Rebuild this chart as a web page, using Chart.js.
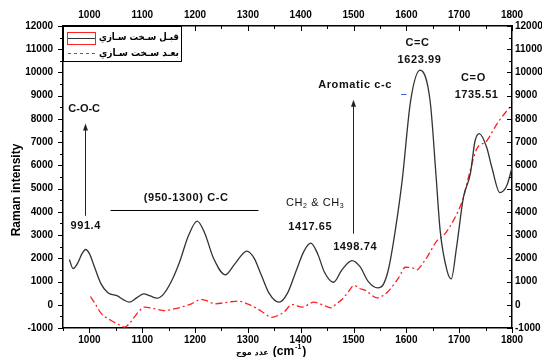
<!DOCTYPE html>
<html>
<head>
<meta charset="utf-8">
<script src="https://cdn.jsdelivr.net/npm/chart.js@4/dist/chart.umd.min.js"></script>
<style>
  html, body { margin: 0; padding: 0; background: #fff; }
  #wrap { width: 542px; height: 357px; position: relative; }
</style>
</head>
<body>
<div id="wrap"><canvas id="raman"></canvas></div>
<script>
// Raman spectrum
const seriesNames = ["قبـل سـخت سـازي", "بعـد سـخت سـازي"];

const beforeX = [962, 969, 978, 986, 993, 1000, 1010, 1022, 1035, 1054, 1064, 1076, 1090, 1103, 1115, 1128,
  1140, 1155, 1170, 1188, 1204, 1218, 1235, 1257, 1275, 1298, 1312, 1325, 1340, 1359, 1375, 1392, 1406,
  1419, 1432, 1445, 1462, 1478, 1497, 1512, 1528, 1546, 1557, 1567, 1579, 1592, 1608, 1626, 1645, 1656,
  1664, 1677, 1685, 1695, 1708, 1721, 1730, 1738, 1752, 1762, 1777, 1790, 1800];
const beforeY = [1950, 1560, 1800, 2200, 2380, 2200, 1600, 900, 520, 370, 220, 110, 310, 470, 380, 285,
  450, 1000, 1800, 3000, 3600, 3100, 2000, 1290, 1750, 2310, 2000, 1300, 500, 110, 500, 1500, 2300,
  2650, 2200, 1400, 970, 1500, 1900, 1650, 1000, 730, 900, 1615, 3190, 5330, 8770, 10100, 8770, 5620,
  3190, 1470, 1115, 2470, 4620, 5620, 7050, 7370, 6780, 5900, 4830, 5120, 5900];

const afterX = [1002, 1012, 1023, 1041, 1055, 1067, 1076, 1085, 1095, 1104, 1123, 1142, 1160, 1174, 1193,
  1211, 1225, 1236, 1262, 1281, 1299, 1318, 1332, 1345, 1358, 1368, 1384, 1403, 1425, 1444, 1457, 1468,
  1479, 1490, 1501, 1512, 1523, 1545, 1556, 1567, 1586, 1598, 1610, 1620, 1630, 1639, 1658, 1670, 1689,
  1708, 1719, 1733, 1752, 1771, 1790, 1800];
const afterY = [355, 0, -390, -675, -850, -960, -800, -530, -250, -100, -170, -250, -180, -100, 40,
  230, 150, 40, 110, 160, 40, -170, -380, -540, -450, -320, 10, -100, 110, -30, -130, 50,
  250, 550, 830, 700, 610, 300, 400, 610, 1185, 1615, 1600, 1500, 1750, 2040, 2760, 2975, 3620,
  4620, 5620, 6700, 7050, 7770, 8340, 8600];

const xTickValues = [1000, 1100, 1200, 1300, 1400, 1500, 1600, 1700, 1800];
const yTickValues = [-1000, 0, 1000, 2000, 3000, 4000, 5000, 6000, 7000, 8000, 9000, 10000, 11000, 12000];

// peak annotations, anchored in data units
const notes = [
  { text: "C-O-C", x: 960, y: 8440, align: "left", bold: true, spacing: 0 },
  { text: "991.4", x: 993, y: 3380, align: "center", bold: true, spacing: 0.6 },
  { text: "(950-1300) C-C", x: 1183, y: 4600, align: "center", bold: true, spacing: 0.6 },
  { text: "1417.65", x: 1418, y: 3360, align: "center", bold: true, spacing: 0.6 },
  { text: "1498.74", x: 1503, y: 2500, align: "center", bold: true, spacing: 0.6 },
  { text: "Aromatic c-c", x: 1503, y: 9450, align: "center", bold: true, spacing: 0.6 },
  { text: "C=C", x: 1621, y: 11260, align: "center", bold: true, spacing: 0.6 },
  { text: "1623.99", x: 1625, y: 10530, align: "center", bold: true, spacing: 0.6 },
  { text: "C=O", x: 1727, y: 9760, align: "center", bold: true, spacing: 0.6 },
  { text: "1735.51", x: 1733, y: 9030, align: "center", bold: true, spacing: 0.6 },
];
const arrows = [
  { x: 991.4, from: 3830, to: 7800 },
  { x: 1498.74, from: 3060, to: 8830 },
];

const FONT = '"Liberation Sans", Arial, sans-serif';
const AR_FONT = '"DejaVu Sans", sans-serif';

function pts(xs, ys) {
  return xs.map(function (x, i) { return { x: x, y: ys[i] }; });
}

function drawTicks(chart) {
  const ctx = chart.ctx;
  const a = chart.chartArea;
  const sx = chart.scales.x;
  const sy = chart.scales.y;
  ctx.save();
  ctx.strokeStyle = "#000";
  ctx.lineWidth = 1;
  ctx.beginPath();
  for (let v = 950; v <= 1800; v += 50) {
    const p = Math.round(sx.getPixelForValue(v)) + 0.5;
    const len = v % 100 === 0 ? 5 : 3;
    ctx.moveTo(p, a.bottom); ctx.lineTo(p, a.bottom + len);
    ctx.moveTo(p, a.top); ctx.lineTo(p, a.top + len);
  }
  for (let v = -1000; v <= 12000; v += 500) {
    const p = Math.round(sy.getPixelForValue(v)) + 0.5;
    const len = v % 1000 === 0 ? 5 : 3;
    ctx.moveTo(a.left, p); ctx.lineTo(a.left - len, p);
    ctx.moveTo(a.right, p); ctx.lineTo(a.right - len, p);
  }
  ctx.stroke();
  ctx.restore();
}

function drawLegend(ctx) {
  ctx.save();
  ctx.fillStyle = "#fff";
  ctx.fillRect(64, 26, 117, 36);
  ctx.strokeStyle = "#000";
  ctx.lineWidth = 1;
  ctx.strokeRect(63.5, 26.5, 118, 35);
  // first entry: swatch with red selection frame
  ctx.strokeStyle = "#ff2020";
  ctx.strokeRect(67.5, 32.5, 28, 12);
  ctx.strokeStyle = "#333";
  ctx.beginPath(); ctx.moveTo(68, 38.5); ctx.lineTo(95, 38.5); ctx.stroke();
  ctx.strokeStyle = "#ff2020";
  ctx.setLineDash([3, 3]);
  ctx.beginPath(); ctx.moveTo(68, 53.5); ctx.lineTo(96, 53.5); ctx.stroke();
  ctx.setLineDash([]);
  ctx.fillStyle = "#000";
  ctx.font = "bold 10px " + AR_FONT;
  ctx.textAlign = "right";
  ctx.textBaseline = "middle";
  ctx.direction = "rtl";
  ctx.fillText(seriesNames[0], 179, 37, 80);
  ctx.fillText(seriesNames[1], 179, 53, 80);
  ctx.restore();
}

function drawNotes(chart) {
  const ctx = chart.ctx;
  const sx = chart.scales.x;
  const sy = chart.scales.y;
  ctx.save();
  ctx.fillStyle = "#111";
  ctx.textBaseline = "middle";
  notes.forEach(function (n) {
    ctx.letterSpacing = n.spacing + "px";
    ctx.font = (n.bold ? "bold " : "") + "11px " + FONT;
    ctx.textAlign = n.align;
    ctx.fillText(n.text, sx.getPixelForValue(n.x), sy.getPixelForValue(n.y));
  });

  // CH2 & CH3 with subscripts
  ctx.letterSpacing = "0.6px";
  let cx = sx.getPixelForValue(1372);
  const cy = sy.getPixelForValue(4390);
  ctx.textAlign = "left";
  ["CH", "2", " & CH", "3"].forEach(function (part, i) {
    const sub = i % 2 === 1;
    ctx.font = (sub ? "7px " : "11px ") + FONT;
    ctx.fillText(part, cx, sub ? cy + 3 : cy);
    cx += ctx.measureText(part).width;
  });
  ctx.letterSpacing = "0px";

  // arrows
  ctx.strokeStyle = "#222";
  ctx.fillStyle = "#222";
  ctx.lineWidth = 1;
  arrows.forEach(function (ar) {
    const x = Math.round(sx.getPixelForValue(ar.x)) + 0.5;
    const y1 = sy.getPixelForValue(ar.from);
    const y2 = sy.getPixelForValue(ar.to);
    ctx.beginPath(); ctx.moveTo(x, y1); ctx.lineTo(x, y2 + 5); ctx.stroke();
    ctx.beginPath();
    ctx.moveTo(x, y2); ctx.lineTo(x - 2.5, y2 + 7); ctx.lineTo(x + 2.5, y2 + 7);
    ctx.closePath(); ctx.fill();
  });

  // range bar for the C-C band
  const ly = Math.round(sy.getPixelForValue(4090)) + 0.5;
  ctx.strokeStyle = "#000";
  ctx.beginPath();
  ctx.moveTo(sx.getPixelForValue(1040), ly);
  ctx.lineTo(sx.getPixelForValue(1320), ly);
  ctx.stroke();

  // small blue stray mark next to the aromatic label
  ctx.strokeStyle = "#3b63e0";
  const by = Math.round(sy.getPixelForValue(9060)) + 0.5;
  ctx.beginPath();
  ctx.moveTo(sx.getPixelForValue(1590), by);
  ctx.lineTo(sx.getPixelForValue(1600), by);
  ctx.stroke();
  ctx.restore();
}

function drawTitles(chart) {
  const ctx = chart.ctx;
  ctx.save();
  ctx.fillStyle = "#000";
  ctx.textBaseline = "middle";
  // y title
  ctx.translate(17, 190);
  ctx.rotate(-Math.PI / 2);
  ctx.font = "bold 12px " + FONT;
  ctx.textAlign = "center";
  ctx.fillText("Raman intensity", 0, 0);
  ctx.setTransform(1, 0, 0, 1, 0, 0);

  // x title: Arabic word + (cm-1)
  let x = 236;
  const y = 352;
  ctx.font = "bold 8px " + AR_FONT;
  ctx.direction = "rtl";
  const ar = "عدد موج";
  const arW = ctx.measureText(ar).width;
  ctx.textAlign = "right";
  ctx.fillText(ar, x + arW, y + 1);
  ctx.direction = "ltr";
  ctx.textAlign = "left";
  x += arW + 4;
  ctx.font = "bold 12px " + FONT;
  ctx.fillText("(cm", x, y);
  x += ctx.measureText("(cm").width + 1;
  ctx.font = "bold 7px " + FONT;
  ctx.fillText("-1", x, y - 5);
  x += ctx.measureText("-1").width + 1;
  ctx.font = "bold 12px " + FONT;
  ctx.fillText(")", x, y);
  ctx.restore();
}

const decorations = {
  id: "decorations",
  afterDraw: function (chart) {
    drawTicks(chart);
    drawLegend(chart.ctx);
    drawNotes(chart);
    drawTitles(chart);
  },
};

function tickFont() {
  return { family: FONT, size: 10, weight: "bold" };
}

function xAxis(position, height, pad) {
  return {
    type: "linear",
    position: position,
    min: 950,
    max: 1800,
    afterBuildTicks: function (s) { s.ticks = xTickValues.map(function (v) { return { value: v }; }); },
    afterFit: function (s) { s.height = height; },
    ticks: { font: tickFont(), color: "#000", padding: pad, maxRotation: 0, autoSkip: false,
      callback: function (v) { return String(v); } },
    grid: { drawOnChartArea: false, drawTicks: false },
    border: { color: "#000", width: 1.5 },
  };
}

function yAxis(position, width, pad) {
  return {
    type: "linear",
    position: position,
    min: -1000,
    max: 12000,
    afterBuildTicks: function (s) { s.ticks = yTickValues.map(function (v) { return { value: v }; }); },
    afterFit: function (s) { s.width = width; },
    ticks: { font: tickFont(), color: "#000", padding: pad, autoSkip: false,
      callback: function (v) { return String(v); } },
    grid: { drawOnChartArea: false, drawTicks: false },
    border: { color: "#000", width: 1.5 },
  };
}

new Chart(document.getElementById("raman"), {
  type: "line",
  data: {
    datasets: [
      {
        label: seriesNames[0],
        data: pts(beforeX, beforeY),
        borderColor: "#333",
        borderWidth: 1.3,
        pointRadius: 0,
        cubicInterpolationMode: "monotone",
      },
      {
        label: seriesNames[1],
        data: pts(afterX, afterY),
        borderColor: "#ff2020",
        borderWidth: 1.3,
        borderDash: [7, 3, 2, 3],
        pointRadius: 0,
        cubicInterpolationMode: "monotone",
      },
    ],
  },
  options: {
    responsive: true,
    maintainAspectRatio: false,
    animation: false,
    layout: { padding: 0 },
    plugins: { legend: { display: false }, tooltip: { enabled: false } },
    scales: {
      x: xAxis("bottom", 29, 6),
      x2: xAxis("top", 26, 5),
      y: yAxis("left", 63, 10),
      y2: yAxis("right", 30, 3),
    },
  },
  plugins: [decorations],
});
</script>
</body>
</html>
